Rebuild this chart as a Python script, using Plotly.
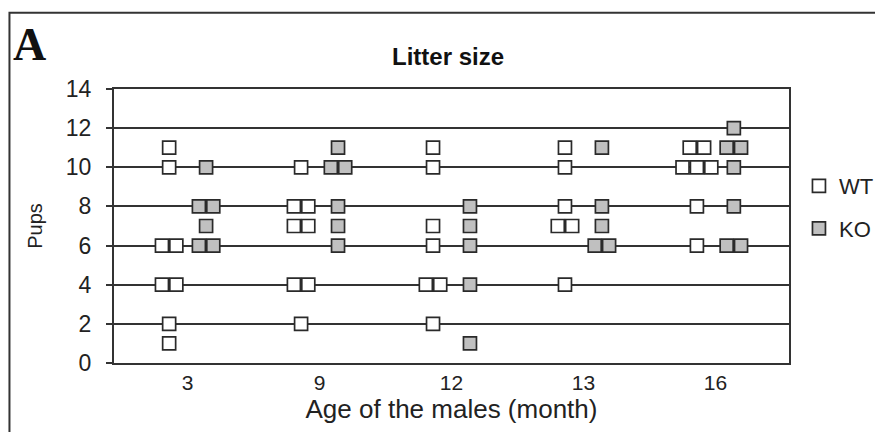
import plotly.graph_objects as go
from collections import Counter

categories = ["3", "9", "12", "13", "16"]

wt_values = {
    "3": [11, 10, 6, 6, 4, 4, 2, 1],
    "9": [10, 8, 8, 7, 7, 4, 4, 2],
    "12": [11, 10, 7, 6, 4, 4, 2],
    "13": [11, 10, 8, 7, 7, 4],
    "16": [11, 11, 10, 10, 10, 8, 6],
}
ko_values = {
    "3": [10, 8, 8, 7, 6, 6],
    "9": [11, 10, 10, 8, 7, 6],
    "12": [8, 7, 6, 4, 1],
    "13": [11, 8, 7, 6, 6],
    "16": [12, 11, 11, 10, 8, 6, 6],
}

y_ticks = list(range(0, 15, 2))

SERIES_SHIFT = 0.14   # horizontal offset of each series from the category centre
STEP = 0.109          # spacing between tied points


def spread(values_by_cat, shift):
    xs, ys = [], []
    for i, cat in enumerate(categories):
        vals = values_by_cat[cat]
        counts = Counter(vals)
        seen = Counter()
        for v in vals:
            n = counts[v]
            k = seen[v]
            seen[v] += 1
            xs.append(i + 1 + shift + (k - (n - 1) / 2) * STEP)
            ys.append(v)
    return xs, ys


wx, wy = spread(wt_values, -SERIES_SHIFT)
kx, ky = spread(ko_values, SERIES_SHIFT)

# figure geometry (the page adds an 8px body margin)
W, H = 883, 432
PL, PT, PW, PH = 106, 81, 678, 274


def px_x(x):
    return (x - PL) / PW


def px_y(y):
    return (PT + PH - y) / PH


fig = go.Figure()
fig.add_trace(go.Scatter(
    x=wx, y=wy, mode="markers", name="WT", legendgroup="WT",
    marker=dict(symbol="square", size=13, color="white",
                line=dict(color="#2a2a2a", width=1.7)),
    cliponaxis=False,
))
fig.add_trace(go.Scatter(
    x=kx, y=ky, mode="markers", name="KO", legendgroup="KO",
    marker=dict(symbol="square", size=13, color="#c0c0c0",
                line=dict(color="#2a2a2a", width=1.7)),
    cliponaxis=False,
))

font_family = "Liberation Sans, Arial, sans-serif"

fig.update_layout(
    width=W, height=H,
    margin=dict(l=PL, r=W - PL - PW, t=PT, b=H - PT - PH),
    paper_bgcolor="white", plot_bgcolor="white",
    font=dict(family=font_family, color="#222", size=21),
    title=dict(text="<b>Litter size</b>", xref="container", yref="container",
               x=440 / W, y=1 - 49 / H, xanchor="center", yanchor="middle",
               font=dict(size=24, color="#111")),
    xaxis=dict(
        range=[0.442, 5.558],
        tickmode="array", tickvals=[1, 2, 3, 4, 5], ticktext=categories,
        showgrid=False, zeroline=False,
        showline=True, mirror=True, linecolor="#333", linewidth=2,
        ticks="", tickfont=dict(size=21),
        title=dict(text="Age of the males (month)", font=dict(size=26), standoff=0),
    ),
    yaxis=dict(
        range=[0, 14], tickmode="array", tickvals=y_ticks,
        showgrid=True, gridcolor="#333", gridwidth=1.6, zeroline=False,
        showline=True, mirror=True, linecolor="#333", linewidth=2,
        ticks="outside", ticklen=6, tickcolor="#333", tickwidth=1.5,
        tickfont=dict(size=23), ticklabelstandoff=10,
        title=dict(text="Pups", font=dict(size=20), standoff=18),
    ),
    legend=dict(
        x=px_x(794), y=px_y(157), xanchor="left", yanchor="top",
        font=dict(size=22), tracegroupgap=11, traceorder="grouped",
        bgcolor="rgba(0,0,0,0)",
    ),
    showlegend=True,
)

fig.add_annotation(
    text="<b>A</b>", xref="paper", yref="paper",
    x=px_x(3), y=px_y(36), xanchor="left", yanchor="middle",
    showarrow=False, font=dict(family="Liberation Serif, Times New Roman, serif",
                               size=46, color="#111"),
)

fig.add_shape(
    type="rect", xref="paper", yref="paper",
    x0=px_x(1), x1=px_x(910), y0=px_y(460), y1=px_y(4.7),
    line=dict(color="#333", width=2), fillcolor="rgba(0,0,0,0)", layer="below",
)

fig.write_html("out.html")
